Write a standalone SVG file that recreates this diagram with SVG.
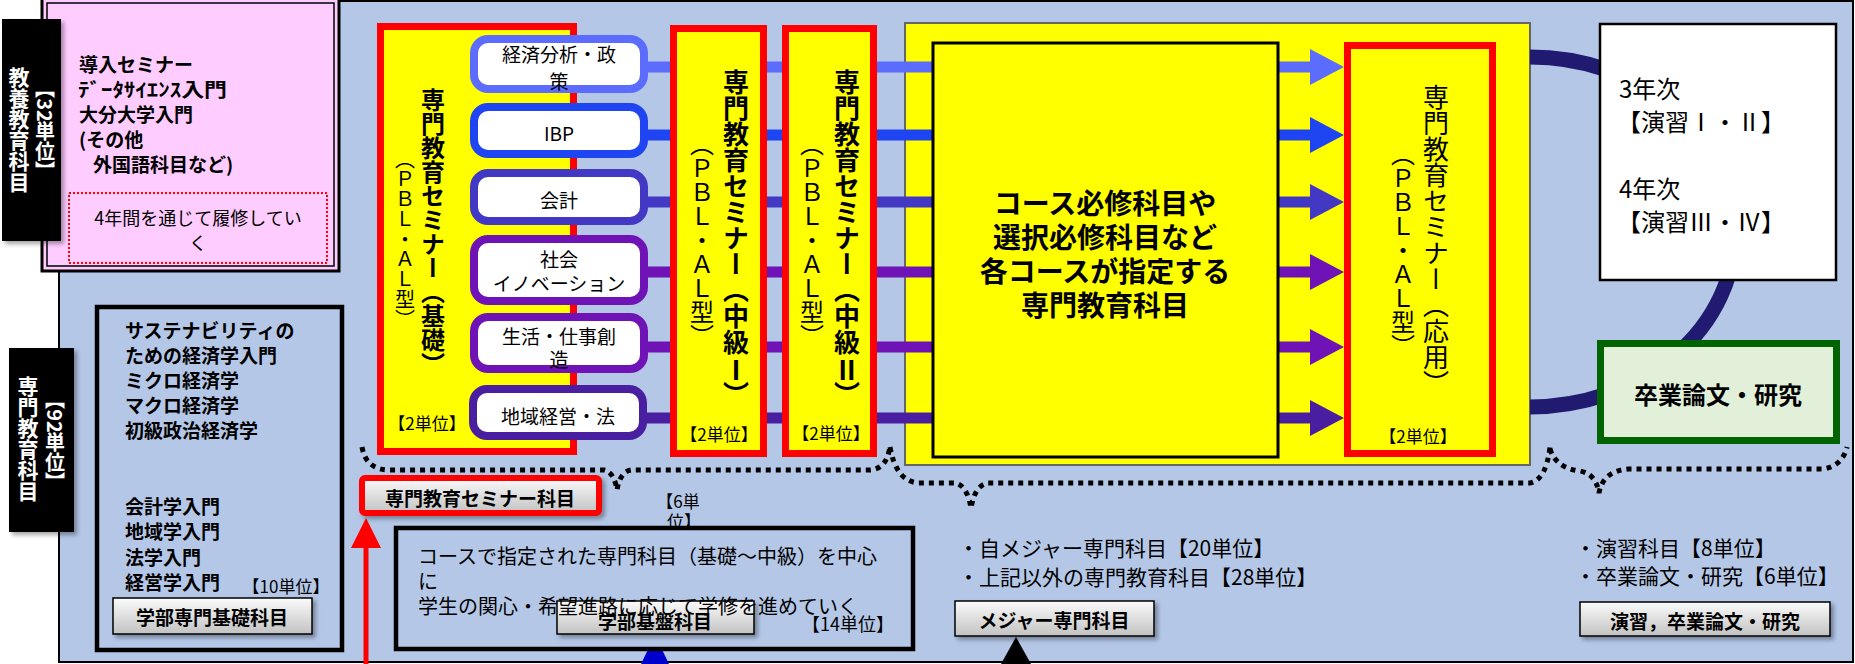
<svg xmlns="http://www.w3.org/2000/svg" width="1855" height="664" viewBox="0 0 1855 664">
<defs>
  <linearGradient id="btnGrad" x1="0" y1="0" x2="0" y2="1">
    <stop offset="0" stop-color="#FBFBFB"/>
    <stop offset="1" stop-color="#C2C2C2"/>
  </linearGradient>
  <filter id="sh" x="-10%" y="-10%" width="130%" height="140%">
    <feDropShadow dx="3" dy="3" stdDeviation="2" flood-color="#000" flood-opacity="0.35"/>
  </filter>
</defs>
<style>
  text { font-family: 'Noto Sans CJK JP', 'Noto Sans CJK SC', sans-serif; fill: #000; }
  .b { font-weight: bold; }
  .w { fill: #fff; }
  .c { text-anchor: middle; dominant-baseline: central; }
  .l { dominant-baseline: central; }
  .v { writing-mode: vertical-rl; text-anchor: middle; }
  .vs { writing-mode: vertical-rl; text-anchor: start; }
  .btn { fill: url(#btnGrad); stroke: #000; stroke-width: 1.5; filter: url(#sh); }
  .redbox { fill: #FFFF00; stroke: #FF0000; stroke-width: 7; }
  .course { fill: #fff; stroke-width: 8; }
  .dots { fill: none; stroke: #000; stroke-width: 5; stroke-dasharray: 5 5; }
  .flow { fill: none; stroke-width: 11; }
  .lbl { fill: #000; filter: url(#sh); }
</style>

<g id="frame">
  <rect x="59" y="1" width="1794" height="661" fill="#B4C7E7" stroke="#000" stroke-width="2"/>
</g>

<g id="course-area">
  <rect x="905" y="23" width="625" height="442" fill="#FFFF00" stroke="#666" stroke-width="2"/>
</g>

<g id="seminar-basic">
  <rect class="redbox" x="380.5" y="26.5" width="193" height="425"/>
  <text class="v b" x="433" y="232" font-size="24">専門教育セミナー（基礎）</text>
  <text class="v" x="405" y="239" font-size="20">（ＰＢＬ・ＡＬ型）</text>
  <text class="c" x="427" y="422" font-size="17">【2単位】</text>
</g>

<g id="connectors">
  <path d="M 1530 57 A 205 175 0 1 1 1530 407" fill="none" stroke="#201A70" stroke-width="15"/>
  <line class="flow" x1="640" y1="67" x2="936" y2="67" stroke="#5B6CFF"/>
  <line class="flow" x1="640" y1="135" x2="936" y2="135" stroke="#1F44F2"/>
  <line class="flow" x1="640" y1="202" x2="936" y2="202" stroke="#4238C4"/>
  <line class="flow" x1="640" y1="272" x2="936" y2="272" stroke="#7013B6"/>
  <line class="flow" x1="640" y1="347" x2="936" y2="347" stroke="#7013B6"/>
  <line class="flow" x1="640" y1="418" x2="936" y2="418" stroke="#4A1EA0"/>
  <g id="arrows">
    <path d="M1278 61.5 H1310 V49 L1344 67 L1310 85 V72.5 H1278 Z" fill="#5B6CFF"/>
    <path d="M1278 129.5 H1310 V117 L1344 135 L1310 153 V140.5 H1278 Z" fill="#1F44F2"/>
    <path d="M1278 196.5 H1310 V184 L1344 202 L1310 220 V207.5 H1278 Z" fill="#4238C4"/>
    <path d="M1278 266.5 H1310 V254 L1344 272 L1310 290 V277.5 H1278 Z" fill="#7013B6"/>
    <path d="M1278 341.5 H1310 V329 L1344 347 L1310 365 V352.5 H1278 Z" fill="#7013B6"/>
    <path d="M1278 412.5 H1310 V400 L1344 418 L1310 436 V423.5 H1278 Z" fill="#4A1EA0"/>
  </g>
  <path class="dots" d="M 362 447 Q 366 470 390 470 L 604 470 Q 614 472 617 490 Q 620 472 631 470 L 870 470 Q 887 469 890 446"/>
  <path class="dots" d="M 890 447 Q 896 481 918 483 L 955 483 Q 967 485 971 508 Q 975 485 988 483 L 1530 483 Q 1546 480 1550 447"/>
  <path class="dots" d="M 1550 449 Q 1556 468 1580 471 Q 1596 474 1599 493 Q 1603 471 1628 469 L 1822 469 Q 1842 467 1847 447"/>
  <line x1="366" y1="664" x2="366" y2="545" stroke="#FF0000" stroke-width="5"/>
  <polygon points="366,518 351,548 381,548" fill="#FF0000"/>
  <polygon points="655,635 641,664 669,664" fill="#0000CC"/>
  <polygon points="1016,637 1001,664 1031,664" fill="#000"/>
</g>

<g id="course-econ">
  <rect class="course" x="474" y="39" width="170" height="50" rx="14" stroke="#5B6CFF"/>
  <text class="c" x="559" y="53" font-size="19">経済分析・政</text>
  <text class="c" x="559" y="80" font-size="19">策</text>
</g>
<g id="course-ibp">
  <rect class="course" x="474" y="107" width="170" height="47" rx="14" stroke="#1F44F2"/>
  <text class="c" x="559" y="132" font-size="19">IBP</text>
</g>
<g id="course-accounting">
  <rect class="course" x="474" y="173" width="170" height="48" rx="14" stroke="#4238C4"/>
  <text class="c" x="559" y="199" font-size="19">会計</text>
</g>
<g id="course-innovation">
  <rect class="course" x="474" y="239" width="170" height="62" rx="14" stroke="#7013B6"/>
  <text class="c" x="559" y="258" font-size="19">社会</text>
  <text class="c" x="559" y="282" font-size="19">イノベーション</text>
</g>
<g id="course-life">
  <rect class="course" x="474" y="317" width="170" height="52" rx="14" stroke="#7013B6"/>
  <text class="c" x="559" y="335" font-size="19">生活・仕事創</text>
  <text class="c" x="559" y="358" font-size="19">造</text>
</g>
<g id="course-regional">
  <rect class="course" x="473" y="389" width="170" height="47" rx="14" stroke="#4A1EA0"/>
  <text class="c" x="558" y="415" font-size="19">地域経営・法</text>
</g>

<g id="seminar-mid1">
  <rect class="redbox" x="673.5" y="28.5" width="90" height="425"/>
  <text class="vs b" x="736" y="69" font-size="26">専門教育セミナー（中級</text>
  <text class="c b" x="736" y="368" font-size="26">Ⅰ</text>
  <text class="vs b" x="736" y="381" font-size="26">）</text>
  <text class="v" x="702" y="240" font-size="24">（ＰＢＬ・ＡＬ型）</text>
  <text class="c" x="719" y="433" font-size="17">【2単位】</text>
</g>
<g id="seminar-mid2">
  <rect class="redbox" x="785.5" y="28.5" width="88" height="425"/>
  <text class="vs b" x="847" y="69" font-size="26">専門教育セミナー（中級</text>
  <text class="c b" x="847" y="368" font-size="26">Ⅱ</text>
  <text class="vs b" x="847" y="381" font-size="26">）</text>
  <text class="v" x="812" y="240" font-size="24">（ＰＢＬ・ＡＬ型）</text>
  <text class="c" x="831" y="432" font-size="17">【2単位】</text>
</g>

<g id="course-subjects">
  <rect x="933" y="43" width="345" height="414" fill="#FFFF00" stroke="#000" stroke-width="3"/>
  <text class="c b" x="1105" y="202" font-size="28">コース必修科目や</text>
  <text class="c b" x="1105" y="236" font-size="28">選択必修科目など</text>
  <text class="c b" x="1105" y="270" font-size="28">各コースが指定する</text>
  <text class="c b" x="1105" y="304" font-size="28">専門教育科目</text>
</g>

<g id="seminar-applied">
  <rect class="redbox" x="1347.5" y="45.5" width="145" height="408"/>
  <text class="v" x="1436" y="240" font-size="26">専門教育セミナー（応用）</text>
  <text class="v" x="1403" y="250" font-size="24">（ＰＢＬ・ＡＬ型）</text>
  <text class="c" x="1418" y="435" font-size="17">【2単位】</text>
</g>

<g id="exercise">
  <rect x="1600" y="24" width="236" height="256" fill="#fff" stroke="#000" stroke-width="2.5"/>
  <text class="l" x="1619" y="87" font-size="24">3年次</text>
  <text class="l" x="1617" y="120" font-size="24">【演習Ⅰ・Ⅱ】</text>
  <text class="l" x="1619" y="187" font-size="24">4年次</text>
  <text class="l" x="1617" y="220" font-size="24">【演習Ⅲ・Ⅳ】</text>
</g>

<g id="thesis">
  <rect x="1600.5" y="343.5" width="236" height="97" fill="#E2F0D9" stroke="#006400" stroke-width="7"/>
  <text class="c b" x="1718" y="393" font-size="24">卒業論文・研究</text>
</g>

<g id="general-education">
  <rect x="42" y="-2" width="297" height="273" fill="#FFCCFF" stroke="#000" stroke-width="3"/>
  <rect x="47" y="3" width="287" height="263" fill="none" stroke="#000" stroke-width="1.5"/>
  <text class="l b" x="79" y="63" font-size="19">導入セミナー</text>
  <text class="l b" x="78" y="88" font-size="19" textLength="149" lengthAdjust="spacingAndGlyphs">ﾃﾞｰﾀｻｲｴﾝｽ入門</text>
  <text class="l b" x="79" y="113" font-size="19">大分大学入門</text>
  <text class="l b" x="79" y="138" font-size="19">(その他</text>
  <text class="l b" x="93" y="163" font-size="19">外国語科目など)</text>
  <rect x="69" y="193" width="258" height="70" fill="none" stroke="#FF0000" stroke-width="2" stroke-dasharray="2 2"/>
  <text class="c" x="198" y="217" font-size="18">4年間を通じて履修してい</text>
  <text class="c" x="198" y="242" font-size="18">く</text>
</g>

<g id="label-general">
  <rect class="lbl" x="2" y="19" width="59" height="222"/>
  <text class="v b w" x="19" y="130" font-size="21">教養教育科目</text>
  <text class="v b w" x="45" y="130" font-size="20">【32単位】</text>
</g>

<g id="label-specialized">
  <rect class="lbl" x="9" y="348" width="65" height="184"/>
  <text class="v b w" x="28" y="439" font-size="21">専門教育科目</text>
  <text class="v b w" x="55" y="441" font-size="20">【92単位】</text>
</g>

<g id="faculty-basic">
  <rect x="97" y="307" width="245" height="343" fill="none" stroke="#000" stroke-width="4.5"/>
  <text class="l b" x="125" y="329" font-size="19">サステナビリティの</text>
  <text class="l b" x="125" y="354" font-size="19">ための経済学入門</text>
  <text class="l b" x="125" y="379" font-size="19">ミクロ経済学</text>
  <text class="l b" x="125" y="404" font-size="19">マクロ経済学</text>
  <text class="l b" x="125" y="429" font-size="19">初級政治経済学</text>
  <text class="l b" x="125" y="505" font-size="19">会計学入門</text>
  <text class="l b" x="125" y="530" font-size="19">地域学入門</text>
  <text class="l b" x="125" y="556" font-size="19">法学入門</text>
  <text class="l b" x="125" y="581" font-size="19">経営学入門</text>
  <text class="c" x="286" y="585" font-size="17">【10単位】</text>
  <rect class="btn" x="113" y="598" width="199" height="36"/>
  <text class="c b" x="212" y="616" font-size="19">学部専門基礎科目</text>
</g>

<g id="seminar-label">
  <rect x="362" y="478" width="237" height="35" rx="3" fill="url(#btnGrad)" stroke="#FF0000" stroke-width="6" filter="url(#sh)"/>
  <text class="c b" x="480" y="497" font-size="19">専門教育セミナー科目</text>
  <text class="c" x="678" y="500" font-size="17">【6単</text>
  <text class="c" x="684" y="520" font-size="17">位】</text>
</g>

<g id="faculty-foundation">
  <rect x="396" y="528" width="517" height="121" fill="#B4C7E7" stroke="#000" stroke-width="4.5"/>
  <rect class="btn" x="557" y="601" width="197" height="33"/>
  <text class="c b" x="655" y="620" font-size="19">学部基盤科目</text>
  <text class="l" x="418" y="555" font-size="20">コースで指定された専門科目（基礎～中級）を中心</text>
  <text class="l" x="418" y="580" font-size="20">に</text>
  <text class="l" x="418" y="605" font-size="20">学生の関心・希望進路に応じて学修を進めていく</text>
  <text class="c" x="848" y="623" font-size="18">【14単位】</text>
</g>

<g id="major-subjects">
  <text class="l" x="958" y="547" font-size="21">・自メジャー専門科目【20単位】</text>
  <text class="l" x="958" y="576" font-size="21">・上記以外の専門教育科目【28単位】</text>
  <rect class="btn" x="955" y="601" width="199" height="35"/>
  <text class="c b" x="1054" y="619" font-size="19">メジャー専門科目</text>
</g>

<g id="exercise-thesis">
  <text class="l" x="1575" y="547" font-size="21">・演習科目【8単位】</text>
  <text class="l" x="1575" y="575" font-size="21">・卒業論文・研究【6単位】</text>
  <rect class="btn" x="1580" y="602" width="250" height="34"/>
  <text class="c b" x="1705" y="620" font-size="19">演習，卒業論文・研究</text>
</g>
</svg>
